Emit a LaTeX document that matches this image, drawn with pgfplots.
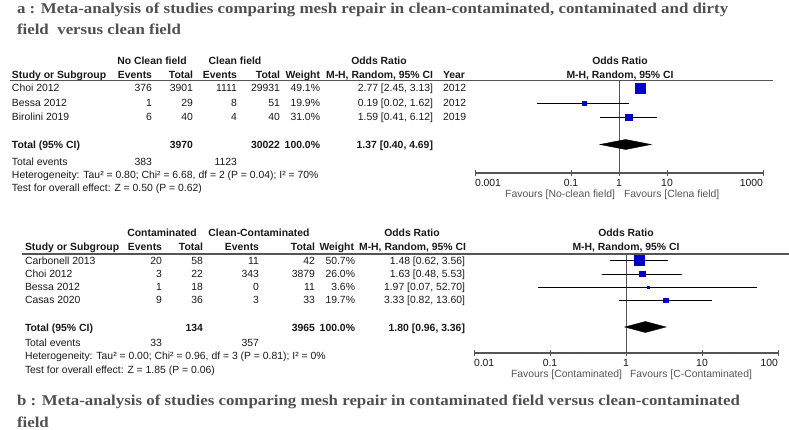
\documentclass[border=0pt]{standalone}
\usepackage{pgfplots}
\pgfplotsset{compat=1.18}
\usepackage{fontspec}
\setmainfont{Liberation Sans}
\newfontfamily\titlefont[FakeStretch=1.125]{Liberation Serif}
\definecolor{txt}{RGB}{25,25,25}
\definecolor{ttl}{RGB}{80,80,80}
\definecolor{sq}{RGB}{0,0,200}
\definecolor{ax}{RGB}{85,85,85}
\definecolor{fav}{RGB}{85,85,85}
\newcommand{\tf}{\fontsize{10.4}{12}\selectfont}
\newcommand{\ttf}{\titlefont\bfseries\fontsize{15}{17}\selectfont}
\begin{document}
\begin{tikzpicture}[x=1pt,y=-1pt,font=\tf,
  every node/.style={inner sep=0pt,outer sep=0pt,text=txt},
  L/.style={anchor=base west},R/.style={anchor=base east},C/.style={anchor=base}]
\path[use as bounding box] (0,0) rectangle (789,430);
% ---------- titles
\node[L,text=ttl,font=\ttf] at (17,14) {a : Meta-analysis of studies comparing mesh repair in clean-contaminated, contaminated and dirty};
\node[L,text=ttl,font=\ttf] at (17,34.5) {field\ \ versus clean field};
\node[L,text=ttl,font=\ttf] at (17,405.5) {b : Meta-analysis of studies comparing mesh repair in contaminated field versus clean-contaminated};
\node[L,text=ttl,font=\ttf] at (17,427) {field};
% ---------- table a
\begin{scope}[font=\tf\bfseries]
\node[C] at (152,64.7) {No Clean field};
\node[C] at (235,64.7) {Clean field};
\node[C] at (379,64.7) {Odds Ratio};
\node[C] at (620,64.7) {Odds Ratio};
\node[L] at (12,78.7) {Study or Subgroup};
\node[R] at (152,78.7) {Events};
\node[R] at (193,78.7) {Total};
\node[R] at (237,78.7) {Events};
\node[R] at (280,78.7) {Total};
\node[R] at (320,78.7) {Weight};
\node[R] at (433,78.7) {M-H, Random, 95\% CI};
\node[L] at (443,78.7) {Year};
\node[C] at (620,78.7) {M-H, Random, 95\% CI};
\end{scope}
\draw[ax,line width=1pt] (10,81) -- (773,81);
\foreach \y/\s/\ea/\ta/\eb/\tb/\w/\o/\yr in {91.7/Choi 2012/376/3901/1111/29931/49.1/{2.77 [2.45, 3.13]}/2012,
  106.7/Bessa 2012/1/29/8/51/19.9/{0.19 [0.02, 1.62]}/2012,
  120.7/Birolini 2019/6/40/4/40/31.0/{1.59 [0.41, 6.12]}/2019}{
  \node[L] at (12,\y) {\s};
  \node[R] at (152,\y) {\ea};
  \node[R] at (193,\y) {\ta};
  \node[R] at (237,\y) {\eb};
  \node[R] at (280,\y) {\tb};
  \node[R] at (320,\y) {\w\%};
  \node[R] at (433,\y) {\o};
  \node[L] at (443,\y) {\yr};
}
\begin{scope}[font=\tf\bfseries]
\node[L] at (12,148.7) {Total (95\% CI)};
\node[R] at (193,148.7) {3970};
\node[R] at (280,148.7) {30022};
\node[R] at (320,148.7) {100.0\%};
\node[R] at (433,148.7) {1.37 [0.40, 4.69]};
\end{scope}
\node[L] at (12,165.7) {Total events};
\node[R] at (152,165.7) {383};
\node[R] at (237,165.7) {1123};
\node[L] at (12,178.7) {Heterogeneity: Tau² = 0.80; Chi² = 6.68, df = 2 (P = 0.04); I² = 70\%};
\node[L] at (12,191.7) {Test for overall effect: Z = 0.50 (P = 0.62)};
% ---------- table b
\begin{scope}[font=\tf\bfseries]
\node[C] at (162,236.7) {Contaminated};
\node[C] at (259,236.7) {Clean-Contaminated};
\node[C] at (412,236.7) {Odds Ratio};
\node[C] at (626,236.7) {Odds Ratio};
\node[L] at (25,250.7) {Study or Subgroup};
\node[R] at (162,250.7) {Events};
\node[R] at (203,250.7) {Total};
\node[R] at (259,250.7) {Events};
\node[R] at (315,250.7) {Total};
\node[R] at (354,250.7) {Weight};
\node[R] at (466,250.7) {M-H, Random, 95\% CI};
\node[C] at (626,250.7) {M-H, Random, 95\% CI};
\end{scope}
\draw[ax,line width=1pt] (22,254) -- (789,254);
\foreach \y/\s/\ea/\ta/\eb/\tb/\w/\o in {264.7/Carbonell 2013/20/58/11/42/50.7/{1.48 [0.62, 3.56]},
  277.7/Choi 2012/3/22/343/3879/26.0/{1.63 [0.48, 5.53]},
  290.7/Bessa 2012/1/18/0/11/3.6/{1.97 [0.07, 52.70]},
  303.7/Casas 2020/9/36/3/33/19.7/{3.33 [0.82, 13.60]}}{
  \node[L] at (25,\y) {\s};
  \node[R] at (162,\y) {\ea};
  \node[R] at (203,\y) {\ta};
  \node[R] at (259,\y) {\eb};
  \node[R] at (315,\y) {\tb};
  \node[R] at (355,\y) {\w\%};
  \node[R] at (465,\y) {\o};
}
\begin{scope}[font=\tf\bfseries]
\node[L] at (25,331.7) {Total (95\% CI)};
\node[R] at (203,331.7) {134};
\node[R] at (315,331.7) {3965};
\node[R] at (355,331.7) {100.0\%};
\node[R] at (465,331.7) {1.80 [0.96, 3.36]};
\end{scope}
\node[L] at (25,346.7) {Total events};
\node[R] at (162,346.7) {33};
\node[R] at (259,346.7) {357};
\node[L] at (25,359.7) {Heterogeneity: Tau² = 0.00; Chi² = 0.96, df = 3 (P = 0.81); I² = 0\%};
\node[L] at (25,373.7) {Test for overall effect: Z = 1.85 (P = 0.06)};
% ---------- forest a
\begin{axis}[at={(475pt,-173pt)},anchor=south west,scale only axis,
  width=288pt,height=92pt,clip=false,
  xmode=log,xmin=0.001,xmax=1000,ymin=-173,ymax=-81,
  axis x line*=bottom,axis y line=none,
  axis line style={ax,line width=1.2pt,-},
  xtick={0.001,0.1,1,10,1000},xticklabels=\empty,minor xtick={},
  major tick length=6pt,tick align=center,tick style={ax,line width=1pt}]
\addplot[ax,line width=1pt] coordinates {(1,-81) (1,-173)};
\addplot[black,line width=0.8pt] coordinates {(2.45,-88) (3.13,-88)};
\addplot[black,line width=0.8pt] coordinates {(0.02,-103) (1.62,-103)};
\addplot[black,line width=0.8pt] coordinates {(0.41,-117) (6.12,-117)};
\addplot[only marks,mark=square*,mark size=5pt,mark options={draw=sq,fill=sq}] coordinates {(2.77,-88)};
\addplot[only marks,mark=square*,mark size=2pt,mark options={draw=sq,fill=sq}] coordinates {(0.19,-103)};
\addplot[only marks,mark=square*,mark size=3.2pt,mark options={draw=sq,fill=sq}] coordinates {(1.59,-117)};
\addplot[fill=black,draw=black] coordinates {(0.40,-144.5) (1.37,-149.5) (4.69,-144.5) (1.37,-139.5)} --cycle;
\node[anchor=base west] at (axis cs:0.001,-186.7) {0.001};
\node[anchor=base] at (axis cs:0.1,-186.7) {0.1};
\node[anchor=base] at (axis cs:1,-186.7) {1};
\node[anchor=base] at (axis cs:10,-186.7) {10};
\node[anchor=base east] at (axis cs:1000,-186.7) {1000};
\node[anchor=base east,text=fav,xshift=-4pt] at (axis cs:1,-197.7) {Favours [No-clean field]};
\node[anchor=base west,text=fav,xshift=5pt] at (axis cs:1,-197.7) {Favours [Clena field]};
\end{axis}
% ---------- forest b
\begin{axis}[at={(474pt,-353pt)},anchor=south west,scale only axis,
  width=304pt,height=99pt,clip=false,
  xmode=log,xmin=0.01,xmax=100,ymin=-353,ymax=-254,
  axis x line*=bottom,axis y line=none,
  axis line style={ax,line width=1.2pt,-},
  xtick={0.01,0.1,1,10,100},xticklabels=\empty,minor xtick={},
  major tick length=6pt,tick align=center,tick style={ax,line width=1pt}]
\addplot[ax,line width=1pt] coordinates {(1,-254) (1,-353)};
\addplot[black,line width=0.8pt] coordinates {(0.62,-260) (3.56,-260)};
\addplot[black,line width=0.8pt] coordinates {(0.48,-274) (5.53,-274)};
\addplot[black,line width=0.8pt] coordinates {(0.07,-287) (52.70,-287)};
\addplot[black,line width=0.8pt] coordinates {(0.82,-300) (13.60,-300)};
\addplot[only marks,mark=square*,mark size=4.8pt,mark options={draw=sq,fill=sq}] coordinates {(1.48,-260)};
\addplot[only marks,mark=square*,mark size=2.6pt,mark options={draw=sq,fill=sq}] coordinates {(1.63,-274)};
\addplot[only marks,mark=square*,mark size=1pt,mark options={draw=sq,fill=sq}] coordinates {(1.97,-287)};
\addplot[only marks,mark=square*,mark size=2.1pt,mark options={draw=sq,fill=sq}] coordinates {(3.33,-300)};
\addplot[fill=black,draw=black] coordinates {(0.96,-327) (1.80,-332.5) (3.36,-327) (1.80,-321.5)} --cycle;
\node[anchor=base west] at (axis cs:0.01,-366.7) {0.01};
\node[anchor=base] at (axis cs:0.1,-366.7) {0.1};
\node[anchor=base] at (axis cs:1,-366.7) {1};
\node[anchor=base] at (axis cs:10,-366.7) {10};
\node[anchor=base east] at (axis cs:100,-366.7) {100};
\node[anchor=base east,text=fav,xshift=-4pt] at (axis cs:1,-377.7) {Favours [Contaminated]};
\node[anchor=base west,text=fav,xshift=4pt] at (axis cs:1,-377.7) {Favours [C-Contaminated]};
\end{axis}
\end{tikzpicture}
\end{document}
